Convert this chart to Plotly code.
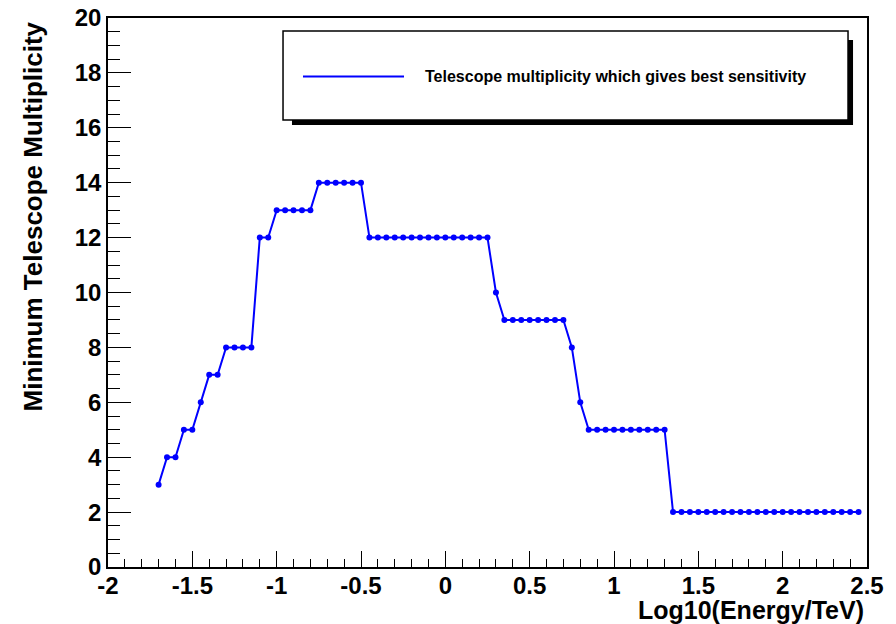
import plotly.graph_objects as go

# log10(E/TeV) bin centres and the best multiplicity
log_energy = [-1.70, -1.65, -1.60, -1.55, -1.50, -1.45, -1.40, -1.35, -1.30, -1.25,
              -1.20, -1.15, -1.10, -1.05, -1.00, -0.95, -0.90, -0.85, -0.80, -0.75,
              -0.70, -0.65, -0.60, -0.55, -0.50, -0.45, -0.40, -0.35, -0.30, -0.25,
              -0.20, -0.15, -0.10, -0.05, 0.00, 0.05, 0.10, 0.15, 0.20, 0.25,
              0.30, 0.35, 0.40, 0.45, 0.50, 0.55, 0.60, 0.65, 0.70, 0.75,
              0.80, 0.85, 0.90, 0.95, 1.00, 1.05, 1.10, 1.15, 1.20, 1.25,
              1.30, 1.35, 1.40, 1.45, 1.50, 1.55, 1.60, 1.65, 1.70, 1.75,
              1.80, 1.85, 1.90, 1.95, 2.00, 2.05, 2.10, 2.15, 2.20, 2.25,
              2.30, 2.35, 2.40, 2.45]
multiplicity = [3, 4, 4, 5, 5, 6, 7, 7, 8, 8,
                8, 8, 12, 12, 13, 13, 13, 13, 13, 14,
                14, 14, 14, 14, 14, 12, 12, 12, 12, 12,
                12, 12, 12, 12, 12, 12, 12, 12, 12, 12,
                10, 9, 9, 9, 9, 9, 9, 9, 9, 8,
                6, 5, 5, 5, 5, 5, 5, 5, 5, 5,
                5, 2, 2, 2, 2, 2, 2, 2, 2, 2,
                2, 2, 2, 2, 2, 2, 2, 2, 2, 2,
                2, 2, 2, 2]

x_tickvals = [-2, -1.5, -1, -0.5, 0, 0.5, 1, 1.5, 2, 2.5]
x_ticktext = ["-2", "-1.5", "-1", "-0.5", "0", "0.5", "1", "1.5", "2", "2.5"]
legend_text = "Telescope multiplicity which gives best sensitivity"

FONT = "Liberation Sans, Arial, Helvetica, sans-serif"
BLUE = "#0000ff"

fig = go.Figure()
fig.add_trace(go.Scatter(
    x=log_energy, y=multiplicity, mode="lines+markers",
    line=dict(color=BLUE, width=2),
    marker=dict(color=BLUE, size=6, symbol="circle"),
    showlegend=False,
))

fig.update_xaxes(
    range=[-2, 2.5], tickvals=x_tickvals, ticktext=x_ticktext,
    ticks="inside", ticklen=16, tickwidth=1, tickcolor="black",
    minor=dict(ticks="inside", ticklen=8, dtick=0.1, tick0=-2, tickcolor="black"),
    showline=True, linecolor="black", linewidth=1.5, mirror=True,
    showgrid=False, zeroline=False, automargin=False,
    ticklabelstandoff=-4, ticklabeloverflow="allow",
    tickfont=dict(family=FONT, size=24, color="black", weight="bold"),
)
fig.update_yaxes(
    range=[0, 20], dtick=2, tick0=0,
    ticks="inside", ticklen=23, tickwidth=1, tickcolor="black",
    minor=dict(ticks="inside", ticklen=12, dtick=0.5, tick0=0, tickcolor="black"),
    showline=True, linecolor="black", linewidth=1.5, mirror=True,
    showgrid=False, zeroline=False, automargin=False,
    ticklabeloverflow="allow",
    tickfont=dict(family=FONT, size=24, color="black", weight="bold"),
)

# ROOT-style legend box with drop shadow
fig.add_shape(type="rect", xref="paper", yref="paper",
              x0=0.2424, x1=0.9816, y0=0.8051, y1=0.9599,
              fillcolor="black", line=dict(width=0))
fig.add_shape(type="rect", xref="paper", yref="paper",
              x0=0.2306, x1=0.975, y0=0.8142, y1=0.9763,
              fillcolor="white", line=dict(color="black", width=1.5))
fig.add_shape(type="line", xref="paper", yref="paper",
              x0=0.2569, x1=0.390, y0=0.8934, y1=0.8934,
              line=dict(color=BLUE, width=2))
fig.add_annotation(text=legend_text, xref="paper", yref="paper",
                   x=0.415, y=0.8934, xanchor="left", yanchor="middle",
                   showarrow=False,
                   font=dict(family=FONT, size=16, color="black", weight="bold"))

# axis titles, aligned to the axis ends as ROOT does
fig.add_annotation(text="Minimum Telescope Multiplicity", xref="paper", yref="paper",
                   x=-0.099, y=0.997, xanchor="center", yanchor="top",
                   textangle=-90, showarrow=False,
                   font=dict(family=FONT, size=26, color="black", weight="bold"))
fig.add_annotation(text="Log10(Energy/TeV)", xref="paper", yref="paper",
                   x=0.999, y=-0.079, xanchor="right", yanchor="middle",
                   showarrow=False,
                   font=dict(family=FONT, size=25, color="black", weight="bold"))

# the page body adds an 8px margin, so the figure is 8px smaller and shifted back
fig.update_layout(
    width=888, height=616,
    margin=dict(l=100, r=29, t=10, b=57),
    plot_bgcolor="white", paper_bgcolor="white",
    font=dict(family=FONT, color="black"),
)

fig.write_html("out.html")
